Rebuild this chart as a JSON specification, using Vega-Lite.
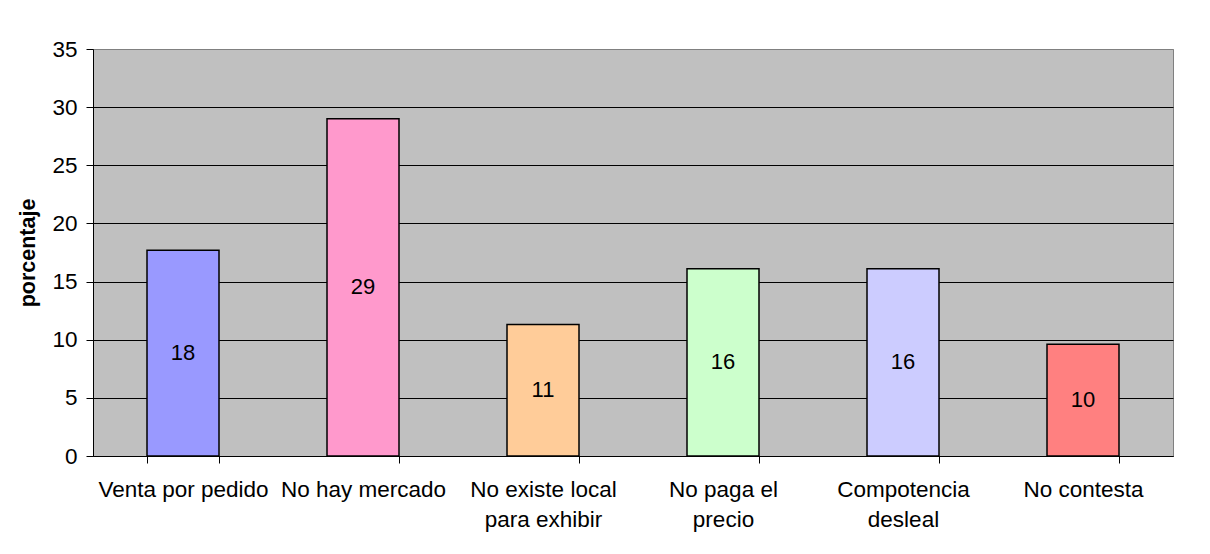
{
  "$schema": "https://vega.github.io/schema/vega-lite/v6.json",
  "autosize": "none",
  "padding": {"left": 93, "top": 49, "right": 37, "bottom": 98},
  "width": 1080,
  "height": 407,
  "background": "white",
  "config": {
    "font": "Liberation Sans",
    "view": {"fill": "#C0C0C0", "stroke": "#808080", "strokeWidth": 1}
  },
  "data": {
    "values": [
      {"categoria": "Venta por pedido", "porcentaje": 17.7, "etiqueta": "18", "color": "#9999FF"},
      {"categoria": "No hay mercado", "porcentaje": 29.0, "etiqueta": "29", "color": "#FF99CC"},
      {"categoria": "No existe local|para exhibir", "porcentaje": 11.3, "etiqueta": "11", "color": "#FFCC99"},
      {"categoria": "No paga el|precio", "porcentaje": 16.1, "etiqueta": "16", "color": "#CCFFCC"},
      {"categoria": "Compotencia|desleal", "porcentaje": 16.1, "etiqueta": "16", "color": "#CCCCFF"},
      {"categoria": "No contesta", "porcentaje": 9.6, "etiqueta": "10", "color": "#FF8080"}
    ]
  },
  "encoding": {
    "x": {
      "field": "categoria",
      "type": "nominal",
      "sort": null,
      "scale": {"paddingInner": 0.6, "paddingOuter": 0.3},
      "axis": {
        "title": null,
        "labelAngle": 0,
        "labelExpr": "isString(datum.value) ? split(datum.value, '|') : ''",
        "labelFontSize": 22.5,
        "labelColor": "black",
        "labelBaseline": "top",
        "labelPadding": 15,
        "labelLineHeight": 30,
        "tickBand": "extent",
        "tickSize": 7,
        "tickColor": "black",
        "domainColor": "black",
        "grid": false
      }
    }
  },
  "layer": [
    {
      "mark": {"type": "bar", "stroke": "black", "strokeWidth": 1.5},
      "encoding": {
        "y": {
          "field": "porcentaje",
          "type": "quantitative",
          "scale": {"domain": [0, 35], "nice": false},
          "axis": {
            "title": "porcentaje",
            "titleFontSize": 21.5,
            "titleFontWeight": "bold",
            "titleColor": "black",
            "titlePadding": 12,
            "values": [0, 5, 10, 15, 20, 25, 30, 35],
            "labelFontSize": 22.5,
            "labelColor": "black",
            "labelPadding": 9,
            "tickSize": 7,
            "tickColor": "black",
            "domainColor": "black",
            "grid": true,
            "gridColor": {"condition": {"test": "datum.value == 35", "value": "#808080"}, "value": "black"},
            "gridWidth": 1
          }
        },
        "fill": {"field": "color", "type": "nominal", "scale": null, "legend": null}
      }
    },
    {
      "transform": [{"calculate": "datum.porcentaje / 2", "as": "mitad"}],
      "mark": {"type": "text", "fontSize": 22, "color": "black", "baseline": "middle", "align": "center"},
      "encoding": {
        "y": {"field": "mitad", "type": "quantitative"},
        "text": {"field": "etiqueta", "type": "nominal"}
      }
    }
  ]
}
